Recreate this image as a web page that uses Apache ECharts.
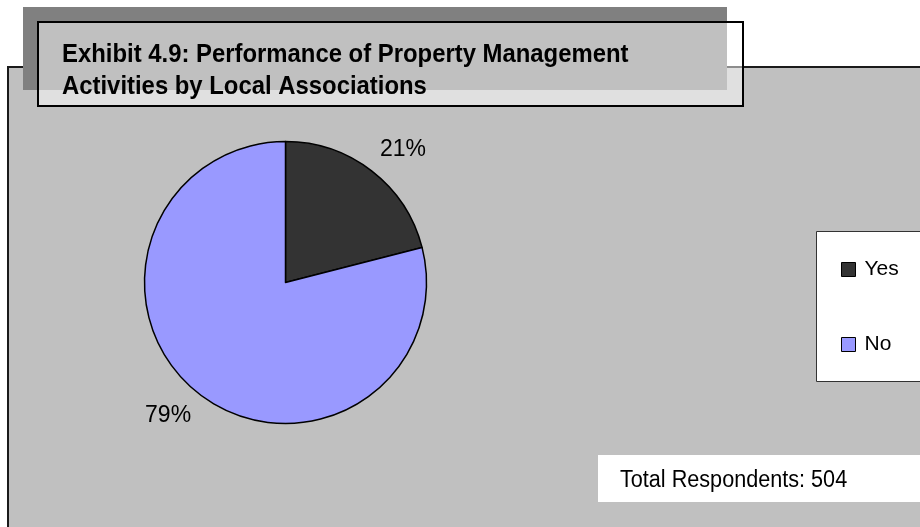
<!DOCTYPE html>
<html>
<head>
<meta charset="utf-8">
<script src="https://cdn.jsdelivr.net/npm/echarts@6/dist/echarts.min.js"></script>
<style>
  html, body { margin: 0; padding: 0; background: #ffffff; }
  #chart { width: 920px; height: 527px; }
</style>
</head>
<body>
<div id="chart"></div>
<script>
// Survey answers and their shares (percent of respondents)
const categories = ['Yes', 'No'];
const shares = [21, 79];
const sliceColors = ['#333333', '#9999FF'];
const titleLines = [
  'Exhibit 4.9: Performance of Property Management',
  'Activities by Local Associations'
];
const footnote = 'Total Respondents: 504';

const FONT = '"Liberation Sans", Arial, Helvetica, sans-serif';
const CX = 285.5, CY = 282.5, R = 141, LABEL_R = 154;
const total = shares.reduce((a, b) => a + b, 0);

// Place each percentage just outside its slice, anchored on the corner nearest the pie
function labelAnchor(i) {
  let before = 0;
  for (let k = 0; k < i; k++) before += shares[k];
  const mid = (before + shares[i] / 2) / total * 2 * Math.PI;
  const dx = Math.sin(mid), dy = -Math.cos(mid);
  return {
    x: CX + dx * LABEL_R,
    y: CY + dy * LABEL_R,
    align: dx >= 0 ? 'left' : 'right',
    verticalAlign: dy < 0 ? 'bottom' : 'top'
  };
}

const chart = echarts.init(document.getElementById('chart'), null, { renderer: 'canvas' });

chart.setOption({
  animation: false,
  backgroundColor: '#ffffff',
  graphic: [
    // plot panel
    { type: 'rect', z: 0, silent: true,
      shape: { x: 8, y: 67, width: 930, height: 480 },
      style: { fill: '#C0C0C0', stroke: '#1a1a1a', lineWidth: 2 } },
    // title drop shadow
    { type: 'rect', z: 1, silent: true,
      shape: { x: 23, y: 7, width: 704, height: 83 },
      style: { fill: '#808080' } },
    // title frame (translucent)
    { type: 'rect', z: 2, silent: true,
      shape: { x: 38, y: 22, width: 705, height: 84 },
      style: { fill: 'rgba(255,255,255,0.5)', stroke: '#000000', lineWidth: 2 } },
    { type: 'text', z: 3, silent: true, x: 62, y: 55, scaleX: 0.955,
      style: { text: titleLines[0], font: 'bold 25px ' + FONT, fill: '#000000', verticalAlign: 'middle' } },
    { type: 'text', z: 3, silent: true, x: 62, y: 86.8, scaleX: 0.955,
      style: { text: titleLines[1], font: 'bold 25px ' + FONT, fill: '#000000', verticalAlign: 'middle' } },
    // legend frame
    { type: 'rect', z: 1, silent: true,
      shape: { x: 816.5, y: 231.5, width: 130, height: 150 },
      style: { fill: '#ffffff', stroke: '#333333', lineWidth: 1 } },
    // respondents note
    { type: 'rect', z: 1, silent: true,
      shape: { x: 598, y: 455, width: 330, height: 47 },
      style: { fill: '#ffffff' } },
    { type: 'text', z: 3, silent: true, x: 620, y: 481, scaleX: 0.94,
      style: { text: footnote, font: '23px ' + FONT, fill: '#000000', verticalAlign: 'middle' } }
  ],
  legend: {
    orient: 'vertical',
    left: 841,
    top: 259,
    padding: 0,
    icon: 'rect',
    itemWidth: 14,
    itemHeight: 14,
    itemGap: 54,
    selectedMode: false,
    itemStyle: { borderColor: '#000000', borderWidth: 1 },
    textStyle: { fontFamily: FONT, fontSize: 21, color: '#000000', padding: [0, 0, 0, 4] },
    data: categories
  },
  series: [{
    type: 'pie',
    silent: true,
    center: [CX, CY],
    radius: R,
    startAngle: 90,
    clockwise: true,
    data: categories.map((name, i) => ({
      name: name,
      value: shares[i],
      itemStyle: { color: sliceColors[i] }
    })),
    itemStyle: { borderColor: '#000000', borderWidth: 1.5 },
    label: {
      show: true,
      position: 'outside',
      formatter: p => p.value + '%',
      fontFamily: FONT,
      fontSize: 23,
      color: '#000000'
    },
    labelLine: { show: false },
    labelLayout: params => labelAnchor(params.dataIndex)
  }]
});
</script>
</body>
</html>
